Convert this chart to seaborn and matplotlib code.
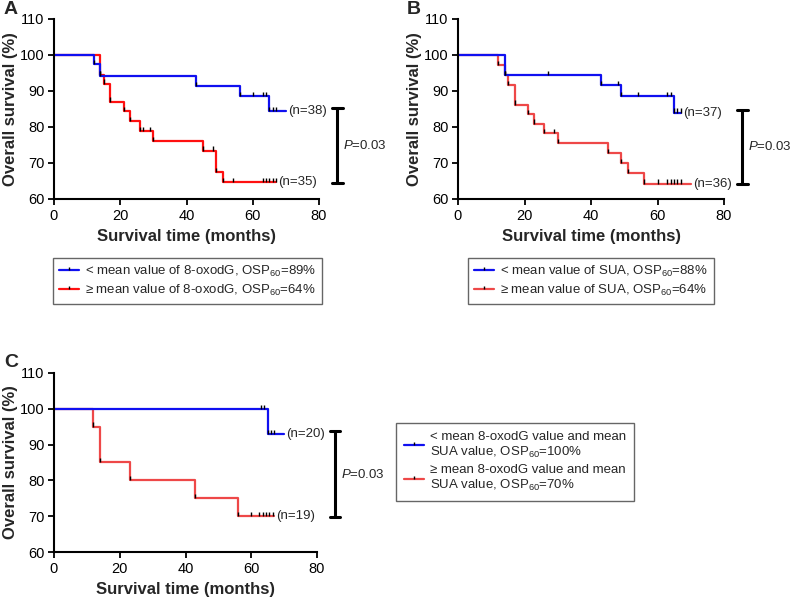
import matplotlib
matplotlib.use('Agg')
import numpy as np
import pandas as pd
import matplotlib.pyplot as plt
import seaborn as sns
from matplotlib.lines import Line2D

sns.set_style('ticks')
plt.rcParams['font.family'] = ['Liberation Sans', 'DejaVu Sans']
plt.rcParams['mathtext.fontset'] = 'custom'
plt.rcParams['mathtext.rm'] = 'Liberation Sans'
plt.rcParams['mathtext.it'] = 'Liberation Sans:italic'
plt.rcParams['mathtext.bf'] = 'Liberation Sans:bold'
plt.rcParams['mathtext.default'] = 'regular'

# === 資料 ===
# A: 8-oxodG
a_low_t = [0, 12, 14, 43, 56, 65, 70]
a_low_s = [100, 97.4, 94.3, 91.4, 88.5, 84.4, 84.4]
a_low_cens = [60, 63, 64, 66, 67]
a_high_t = [0, 14, 15, 17, 21, 23, 26, 30, 45, 49, 51, 67]
a_high_s = [100, 94.4, 92.0, 87.0, 84.4, 81.6, 78.9, 76.1, 73.4, 67.5, 64.6, 64.6]
a_high_cens = [27, 29, 48, 54, 63, 64, 65, 66, 67]

# B: SUA
b_low_t = [0, 14, 43, 49, 65, 67]
b_low_s = [100, 94.4, 91.6, 88.6, 84.0, 84.0]
b_low_cens = [27, 48, 54, 63, 64, 66, 67]
b_high_t = [0, 12, 14, 15, 17, 21, 23, 26, 30, 45, 49, 51, 56, 70]
b_high_s = [100, 97.2, 94.4, 91.7, 86.2, 83.6, 80.9, 78.2, 75.5, 72.7, 70.0, 67.2, 64.3, 64.3]
b_high_cens = [29, 60, 63, 64, 65, 66, 67]

# C: 8-oxodG + SUA
c_low_t = [0, 65, 70]
c_low_s = [100, 92.9, 92.9]
c_low_cens = [63, 64, 66, 67]
c_high_t = [0, 12, 14, 23, 43, 56, 67]
c_high_s = [100, 95, 85, 80, 75, 70, 70]
c_high_cens = [60, 62.5, 63.5, 64.5, 65.5, 66.5]

n_labels = {'A': ['(n=38)', '(n=35)'], 'B': ['(n=37)', '(n=36)'], 'C': ['(n=20)', '(n=19)']}
p_text = r'$\mathit{P}$=0.03'
legend_labels = {
    'A': ['< mean value of 8-oxodG, OSP$_{60}$=89%', '≥ mean value of 8-oxodG, OSP$_{60}$=64%'],
    'B': ['< mean value of SUA, OSP$_{60}$=88%', '≥ mean value of SUA, OSP$_{60}$=64%'],
    'C': ['< mean 8-oxodG value and mean\nSUA value, OSP$_{60}$=100%',
          '≥ mean 8-oxodG value and mean\nSUA value, OSP$_{60}$=70%'],
}

BLUE = '#1010f0'
RED_A = '#ff1010'
RED = '#ee4848'
W, H = 792, 599


def surv_at(t, s, x):
    t = np.asarray(t)
    idx = np.searchsorted(t, x, side='right') - 1
    return np.asarray(s)[idx]


def draw_curve(ax, t, s, cens, color, label):
    df = pd.DataFrame({'time': t, 'surv': s})
    sns.lineplot(data=df, x='time', y='surv', drawstyle='steps-post', estimator=None,
                 sort=False, color=color, lw=1.6, ax=ax)
    # 事件處的黑色短刻度
    for i in range(1, len(t) - 1):
        if s[i] < s[i - 1]:
            ax.vlines(t[i], s[i], min(s[i - 1], s[i] + 1.2), color='black', lw=1.0, zorder=3)
    # 設限刻度
    cy = surv_at(t, s, cens)
    ax.vlines(cens, cy, cy + 1.2, color='black', lw=1.0, zorder=3)
    ax.text(t[-1] + 0.6, s[-1], label, fontsize=9.5, va='center', ha='left', clip_on=False)


def setup_axes(ax):
    ax.set_xlim(0, 80)
    ax.set_ylim(60, 110)
    ax.set_xticks([0, 20, 40, 60, 80])
    ax.set_yticks([60, 70, 80, 90, 100, 110])
    sns.despine(ax=ax)
    for sp in ['left', 'bottom']:
        ax.spines[sp].set_linewidth(1.5)
        ax.spines[sp].set_color('black')
    ax.tick_params(direction='out', length=4, width=1.3, labelsize=10.5, pad=3, colors='black')
    ax.set_xlabel('Survival time (months)', fontsize=12, fontweight='bold', va='center')
    ax.set_ylabel('Overall survival (%)', fontsize=12, fontweight='bold', va='center')
    ax.xaxis.set_label_coords(0.5, -0.21)
    ax.yaxis.set_label_coords(-0.165, 0.5)


def bracket(ax, top, bottom, x=85.5):
    ax.plot([x, x], [bottom, top], color='black', lw=2.2, clip_on=False, solid_capstyle='butt')
    for y in (top, bottom):
        ax.plot([x - 1.6, x + 1.6], [y, y], color='black', lw=2.2, clip_on=False)
    ax.text(x + 1.8, (top + bottom) / 2, p_text, fontsize=9.5, va='center', ha='left')


def add_legend(fig, colors, labels, x, y, pad=0.45):
    handles = []
    for c in colors:
        handles.append((Line2D([], [], color=c, lw=1.6),
                        Line2D([], [], ls='none', marker=[(0, 0), (0, 1)], markersize=4.5,
                               markeredgecolor='black', markerfacecolor='none', markeredgewidth=1.0)))
    leg = fig.legend(handles, labels, loc='upper left', bbox_to_anchor=(x / W, 1 - y / H),
                     borderaxespad=0, fontsize=9.5, frameon=True, fancybox=False,
                     handlelength=1.5, handletextpad=0.5, labelspacing=0.3,
                     borderpad=pad)
    leg.get_frame().set_edgecolor('#404040')
    leg.get_frame().set_linewidth(1.0)
    return leg


fig = plt.figure(figsize=(7.92, 5.99), dpi=100)
ax_a = fig.add_axes([54 / W, 1 - 199 / H, 265 / W, 180 / H])
ax_b = fig.add_axes([458 / W, 1 - 199 / H, 266 / W, 180 / H])
ax_c = fig.add_axes([54 / W, 1 - 552 / H, 263 / W, 179 / H])

panels = [
    (ax_a, 'A', (a_low_t, a_low_s, a_low_cens), (a_high_t, a_high_s, a_high_cens), RED_A),
    (ax_b, 'B', (b_low_t, b_low_s, b_low_cens), (b_high_t, b_high_s, b_high_cens), RED),
    (ax_c, 'C', (c_low_t, c_low_s, c_low_cens), (c_high_t, c_high_s, c_high_cens), RED),
]

for ax, letter, low, high, red in panels:
    setup_axes(ax)
    draw_curve(ax, high[0], high[1], high[2], red, n_labels[letter][1])
    draw_curve(ax, low[0], low[1], low[2], BLUE, n_labels[letter][0])
    bracket(ax, low[1][-1] + 0.8, high[1][-1] - 0.2)

fig.text(4 / W, 1 - 1 / H, 'A', fontsize=14, fontweight='bold', va='top', ha='left')
fig.text(407 / W, 1 - 1 / H, 'B', fontsize=14, fontweight='bold', va='top', ha='left')
fig.text(4 / W, 1 - 354 / H, 'C', fontsize=14, fontweight='bold', va='top', ha='left')

add_legend(fig, [BLUE, RED_A], legend_labels['A'], 53, 258)
add_legend(fig, [BLUE, RED], legend_labels['B'], 468, 258)
add_legend(fig, [BLUE, RED], legend_labels['C'], 396, 423, pad=0.6)

fig.savefig('out.png', dpi=100)
